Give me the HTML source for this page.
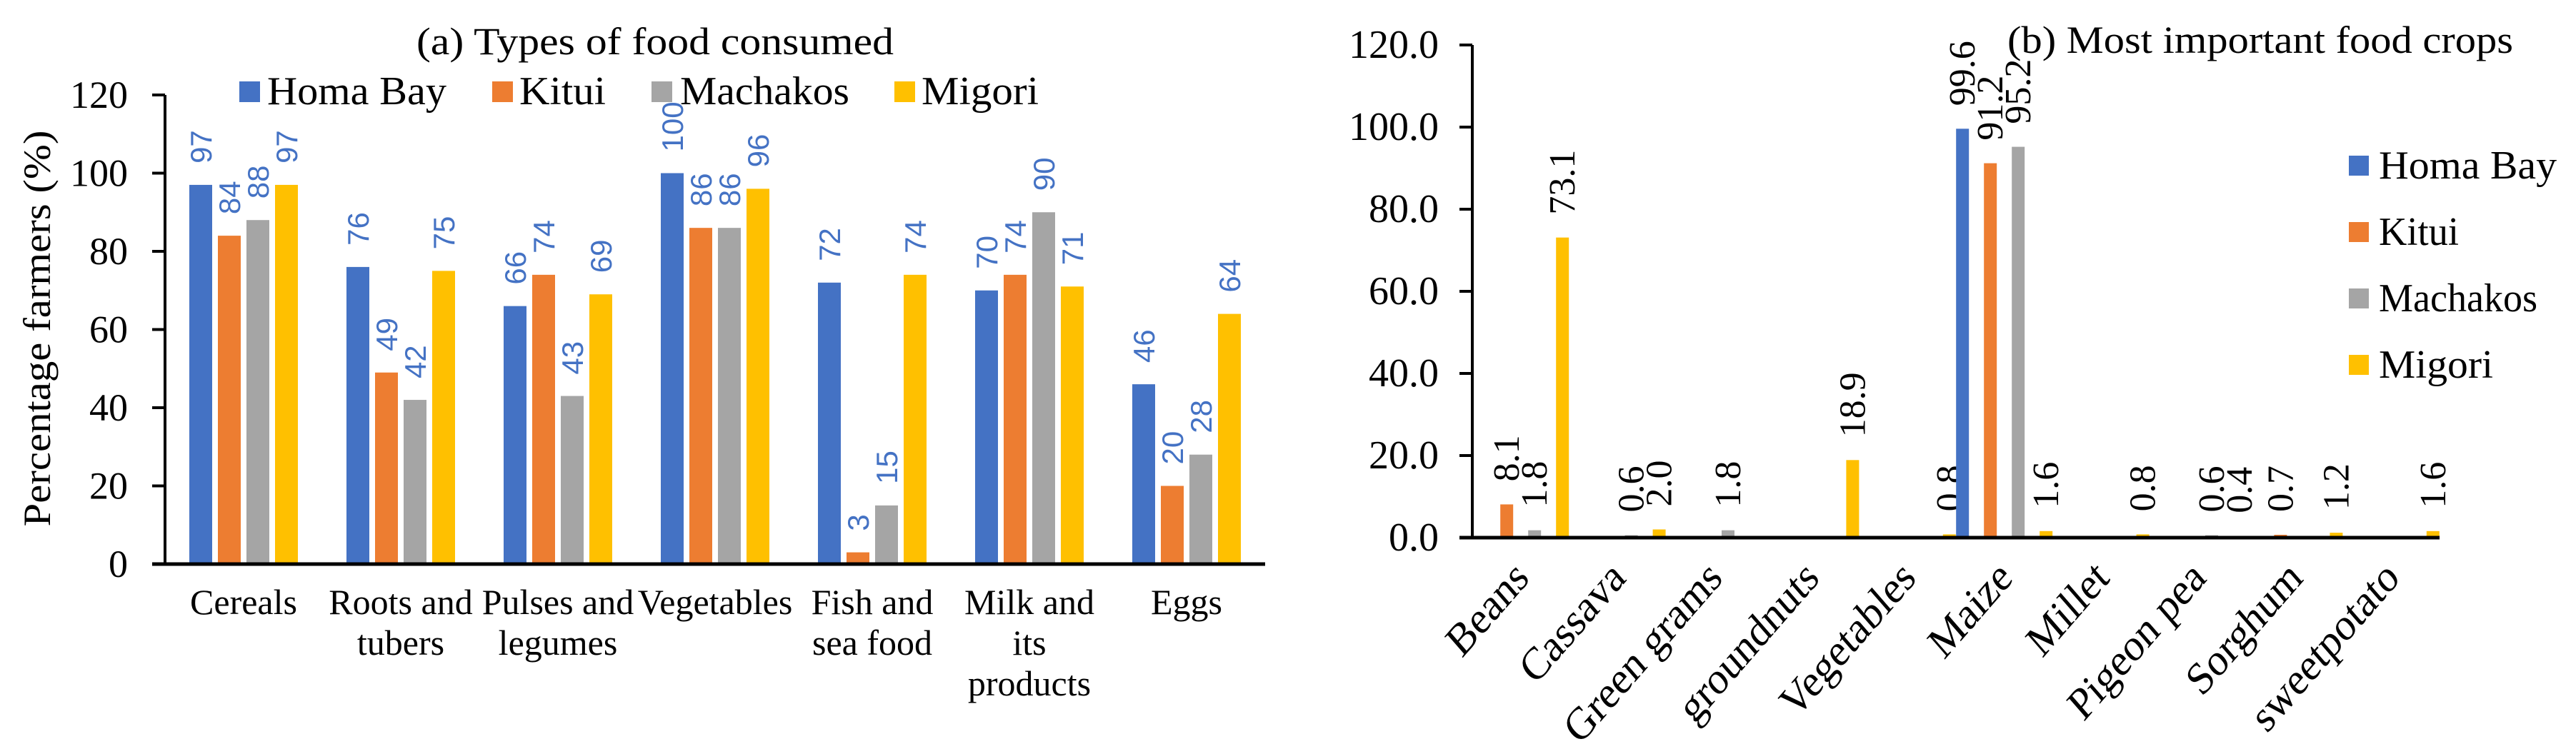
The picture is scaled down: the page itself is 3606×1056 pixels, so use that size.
<!DOCTYPE html>
<html><head><meta charset="utf-8"><style>
html,body{margin:0;padding:0;background:#fff;}
svg{display:block;}
text{font-family:"Liberation Serif",serif;fill:#000;}
.sans{font-family:"Liberation Sans",sans-serif;}
</style></head><body>
<svg id="chart" width="3606" height="1056" viewBox="0 0 3606 1056" xmlns="http://www.w3.org/2000/svg">
<g id="left"></g>
<g id="right"></g>
</svg>
<script>
const seriesNames = ["Homa Bay","Kitui","Machakos","Migori"];
const colors = ["#4472C4","#ED7D31","#A5A5A5","#FFC000"];

// Chart (a)
const catsA = [["Cereals"],["Roots and","tubers"],["Pulses and","legumes"],["Vegetables"],["Fish and","sea food"],["Milk and","its","products"],["Eggs"]];
const homaA = [97,76,66,100,72,70,46];
const kituiA = [84,49,74,86,3,74,20];
const machA = [88,42,43,86,15,90,28];
const migoriA = [97,75,69,96,74,71,64];
const ticksA = [0,20,40,60,80,100,120];

// Chart (b)
const catsB = ["Beans","Cassava","Green grams","groundnuts","Vegetables","Maize","Millet","Pigeon pea","Sorghum","sweetpotato"];
const homaB = [null,null,null,null,null,99.6,null,null,null,null];
const kituiB = [8.1,null,null,null,null,91.2,null,null,0.7,null];
const machB = [1.8,0.6,1.8,null,null,95.2,null,0.6,null,null];
const migoriB = [73.1,2.0,null,18.9,0.8,1.6,0.8,0.4,1.2,1.6];
const ticksB = [0,20,40,60,80,100,120];

const NS="http://www.w3.org/2000/svg";
function mk(parent,tag,attrs,txt){const e=document.createElementNS(NS,tag);for(const k in attrs)e.setAttribute(k,attrs[k]);if(txt!==undefined)e.textContent=txt;parent.appendChild(e);return e;}

// ---- Chart A ----
(function(){
const g=document.getElementById('left');
const x0=231,x1=1771,y0=790,yTop=133,max=120;
const y=v=>y0-(v/max)*(y0-yTop);
const cw=(x1-x0)/catsA.length;
const pitch=40,bw=32;
const data=[homaA,kituiA,machA,migoriA];
const t=mk(g,'text',{x:917,y:76,'font-size':54,'text-anchor':'middle',textLength:668,lengthAdjust:'spacingAndGlyphs'},'(a) Types of food consumed');


const yt=mk(g,'text',{x:0,y:0,'font-size':54,'text-anchor':'middle',transform:'translate(70,460) rotate(-90)',textLength:555,lengthAdjust:'spacingAndGlyphs'},'Percentage farmers (%)');


ticksA.forEach(v=>{
  const l=mk(g,'line',{x1:x0-18,x2:x0,y1:y(v),y2:y(v),stroke:'#000','stroke-width':4});
  
  
  const tl=mk(g,'text',{x:179,y:y(v)+18,'font-size':54,'text-anchor':'end'},String(v));
  
  
});
catsA.forEach((c,i)=>{
  const cx=x0+cw*(i+0.5);
  data.forEach((s,j)=>{
    const bx=cx+(j-1.5)*pitch-bw/2;
    const r=mk(g,'rect',{x:bx,y:y(s[i]),width:bw,height:y0-y(s[i]),fill:colors[j]});
    
    
    const lx=bx+bw/2+15, ly=y(s[i])-30;
    const lb=mk(g,'text',{x:0,y:0,'font-size':42,'class':'sans',style:'fill:#4472C4',transform:`translate(${lx},${ly}) rotate(-90)`},String(s[i]));
    
    
  });
  c.forEach((line,k)=>{
    const ct=mk(g,'text',{x:cx,y:860+k*57,'font-size':50,'text-anchor':'middle'},line);
    
    
  });
});
const ax=mk(g,'line',{x1:x0,x2:x0,y1:yTop,y2:y0,stroke:'#000','stroke-width':4});


const bx=mk(g,'line',{x1:x0-18,x2:x1,y1:y0,y2:y0,stroke:'#000','stroke-width':5});


const lgX=[335,689,912,1252], lgT=[374,727,952,1290], lgW=[251,121,237,164];
seriesNames.forEach((n,j)=>{
  const sq=mk(g,'rect',{x:lgX[j],y:114,width:29,height:29,fill:colors[j]});
  
  
  const lt=mk(g,'text',{x:lgT[j],y:146,'font-size':56,textLength:lgW[j],lengthAdjust:'spacingAndGlyphs'},n);
  
  
});
})();

// ---- Chart B ----
(function(){
const g=document.getElementById('right');
const x0=2061,x1=3415,y0=753,yTop=63,max=120;
const y=v=>y0-(v/max)*(y0-yTop);
const cw=(x1-x0)/catsB.length;
const pitch=39,bw=18;
const data=[homaB,kituiB,machB,migoriB];
const t=mk(g,'text',{x:2810,y:74,'font-size':54,textLength:708,lengthAdjust:'spacingAndGlyphs'},'(b) Most important food crops');


ticksB.forEach(v=>{
  const l=mk(g,'line',{x1:x0-18,x2:x0,y1:y(v),y2:y(v),stroke:'#000','stroke-width':4});
  
  
  const tl=mk(g,'text',{x:2014,y:y(v)+18,'font-size':56,'text-anchor':'end'},v.toFixed(1));
  
  
});
catsB.forEach((c,i)=>{
  const cx=x0+cw*(i+0.5);
  data.forEach((s,j)=>{
    if(s[i]===null) return;
    const bx=cx+(j-1.5)*pitch-bw/2;
    const r=mk(g,'rect',{x:bx,y:y(s[i]),width:bw,height:y0-y(s[i]),fill:colors[j]});
    
    
    const lx=bx+bw/2+17, ly=y(s[i])-32;
    const lb=mk(g,'text',{x:0,y:0,'font-size':52,transform:`translate(${lx},${ly}) rotate(-90)`},s[i].toFixed(1));
    
    
  });
  const ct=mk(g,'text',{x:0,y:0,'font-size':64,'text-anchor':'end',transform:`translate(${cx+14},${812}) scale(0.87,1) rotate(-45)`},c);
  
  
});
const ax=mk(g,'line',{x1:x0,x2:x0,y1:yTop,y2:y0,stroke:'#000','stroke-width':4});


const bx=mk(g,'line',{x1:x0-18,x2:x1,y1:y0,y2:y0,stroke:'#000','stroke-width':5});


const rows=[232,325,418,511], lgW=[249,112,222,160];
seriesNames.forEach((n,j)=>{
  const sq=mk(g,'rect',{x:3288,y:rows[j]-14,width:28,height:28,fill:colors[j]});
  
  
  const lt=mk(g,'text',{x:3330,y:rows[j]+18,'font-size':56,textLength:lgW[j],lengthAdjust:'spacingAndGlyphs'},n);
  
  
});
})();
</script>
</body></html>
